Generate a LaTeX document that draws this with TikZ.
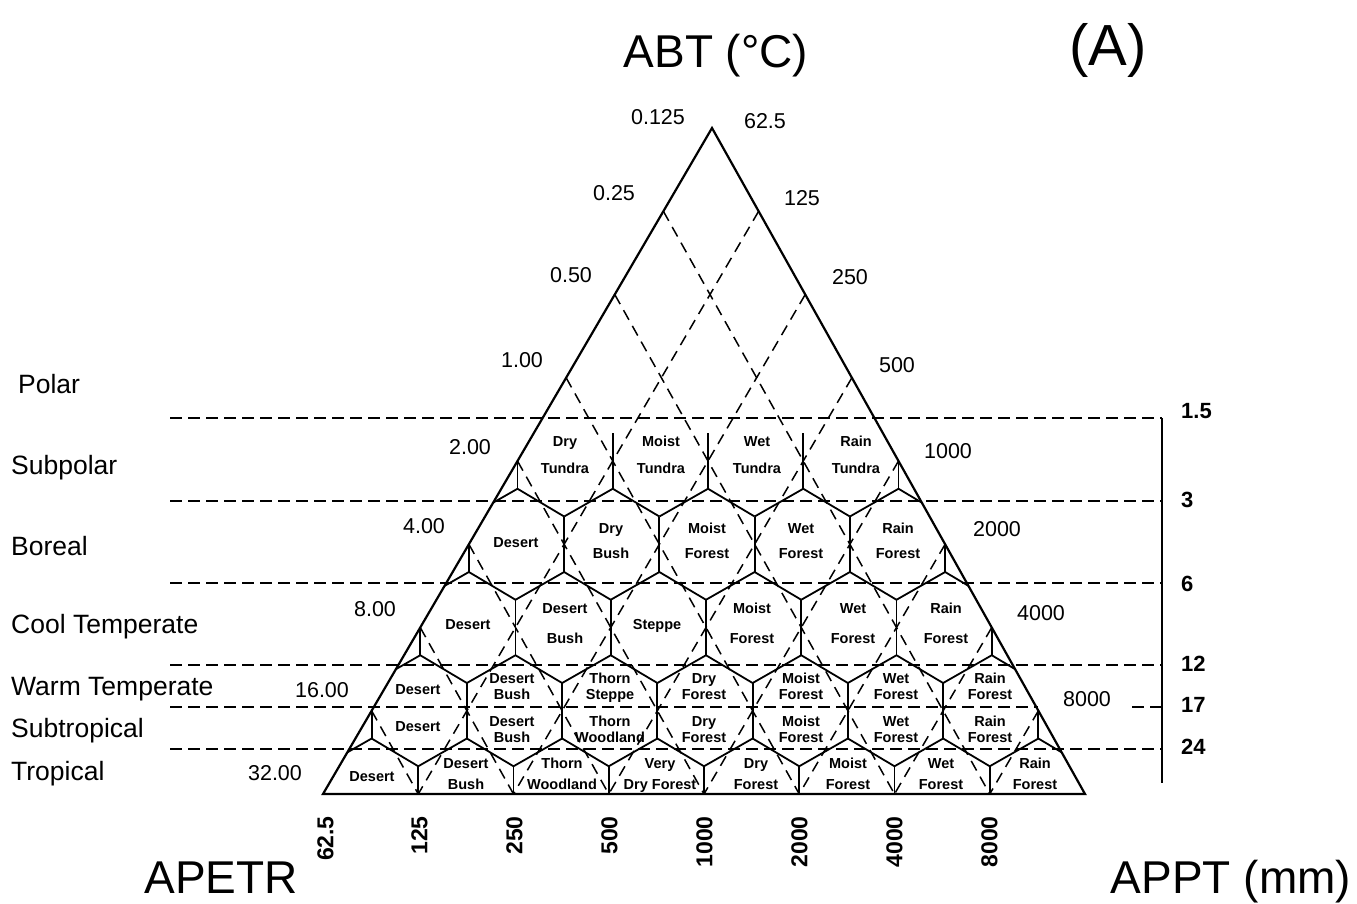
\documentclass[tikz,border=0pt]{standalone}
\usepackage{fontspec}
\setmainfont{Liberation Sans}
\begin{document}
\begin{tikzpicture}[x=1pt,y=-1pt,
  tri/.style={line width=2.2pt, line join=miter},
  hexline/.style={line width=1.8pt},
  gridline/.style={line width=1.5pt, dash pattern=on 11pt off 7pt},
  zoneline/.style={line width=1.5pt, dash pattern=on 12pt off 6pt},
  cell/.style={font=\fontsize{14.5}{16}\selectfont\bfseries, inner sep=0pt, text height=10.4pt, text depth=0pt},
  scalelab/.style={font=\fontsize{21.5}{24}\selectfont, inner sep=0pt, text height=15.4pt, text depth=0pt},
  rightlab/.style={font=\fontsize{22}{24}\selectfont\bfseries, inner sep=0pt, text height=15.8pt, text depth=0pt, anchor=west},
  baselab/.style={font=\fontsize{23}{25}\selectfont\bfseries, inner sep=0pt, text height=16.5pt, text depth=0pt, rotate=90, anchor=east},
  zonelab/.style={font=\fontsize{26.5}{28}\selectfont, inner sep=0pt, text height=19pt, text depth=0pt, anchor=west},
  axislab/.style={font=\fontsize{46}{50}\selectfont, inner sep=0pt, text height=33pt, text depth=0pt},
]
\useasboundingbox (0,0) rectangle (1357,903);
\coordinate (A) at (712,128);
\coordinate (L) at (323,794);
\coordinate (R) at (1085,794);

% hexagon network
\begin{scope}
\clip (A) -- (L) -- (R) -- cycle;
\foreach \k in {4,...,8}{
  \foreach \j in {0,...,\k}{
    \pgfmathsetmacro\xx{712-48.625*\k+95.25*\j}
    \pgfmathsetmacro\yy{128+83.25*\k}
    \draw[hexline] (\xx,{\yy-27.75}) -- (\xx,{\yy+27.75});
  }
}
\foreach \k in {4,...,7}{
  \foreach \j in {0,...,\k}{
    \pgfmathsetmacro\xx{712-48.625*\k+95.25*\j}
    \pgfmathsetmacro\yy{128+83.25*\k}
    \draw[hexline] ({\xx-48.625},{\yy+55.5}) -- (\xx,{\yy+27.75}) -- ({\xx+46.625},{\yy+55.5});
  }
}
\end{scope}

% log grid (dashed)
\foreach \i in {1,...,7}{
  \draw[gridline] ({712-48.625*\i},{128+83.25*\i}) -- ({323+95.25*(8-\i)},794);
  \draw[gridline] ({712+46.625*\i},{128+83.25*\i}) -- ({323+95.25*\i},794);
}

% latitudinal / biotemperature lines
\foreach \y in {418,501,583,665,749}{
  \draw[zoneline] (170,\y) -- (1162,\y);
}
\draw[zoneline] (170,707) -- (1038,707);
\draw[zoneline] (1132,707) -- (1162,707);
\draw[line width=1.8pt] (1162,418) -- (1162,783);

% triangle
\draw[tri] (A) -- (L) -- (R) -- cycle;

% cell labels
\foreach \x/\a/\b/\ta/\tb in {
  565/441/468/Dry/Tundra, 661/441/468/Moist/Tundra, 757/441/468/Wet/Tundra, 856/441/468/Rain/Tundra,
  611/528/553/Dry/Bush, 707/528/553/Moist/Forest, 801/528/553/Wet/Forest, 898/528/553/Rain/Forest,
  565/608/638/Desert/Bush, 752/608/638/Moist/Forest, 853/608/638/Wet/Forest, 946/608/638/Rain/Forest,
  512/678/694/Desert/Bush, 610/678/694/Thorn/Steppe, 704/678/694/Dry/Forest, 801/678/694/Moist/Forest, 896/678/694/Wet/Forest, 990/678/694/Rain/Forest,
  512/721/737/Desert/Bush, 610/721/737/Thorn/Woodland, 704/721/737/Dry/Forest, 801/721/737/Moist/Forest, 896/721/737/Wet/Forest, 990/721/737/Rain/Forest,
  466/763/784/Desert/Bush, 562/763/784/Thorn/Woodland, 660/763/784/Very/Dry Forest, 756/763/784/Dry/Forest, 848/763/784/Moist/Forest, 941/763/784/Wet/Forest, 1035/763/784/Rain/Forest}{
  \node[cell] (c\x-\a) at (\x,\a) {\ta};
  \node[cell] (c\x-\b) at (\x,\b) {\tb};
}
\foreach \x/\y/\t in {516/542/Desert, 468/624/Desert, 657/624/Steppe, 418/689/Desert, 418/726/Desert, 372/776/Desert}{
  \node[cell] (s\x-\y) at (\x,\y) {\t};
}

% scale labels along sides
\foreach \x/\y/\t in {658/117/0.125, 614/193/0.25, 571/275/0.50, 522/360/1.00, 470/447/2.00, 424/526/4.00, 375/609/8.00, 322/690/16.00, 275/773/32.00,
  765/121/62.5, 802/198/125, 850/277/250, 897/365/500, 948/451/1000, 997/529/2000, 1041/613/4000, 1087/699/8000}{
  \node[scalelab] (l\x) at (\x,\y) {\t};
}

% right axis labels
\foreach \y/\t in {411/1.5, 500/3, 584/6, 664/12, 705/17, 747/24}{
  \node[rightlab] (r\y) at (1181,\y) {\t};
}

% base labels
\foreach \x/\t in {325/62.5, 419/125, 514/250, 609/500, 704/1000, 799/2000, 894/4000, 989/8000}{
  \node[baselab] (b\x) at (\x,816) {\t};
}

% zone names
\foreach \x/\y/\t in {18/384/Polar, 11/465/Subpolar, 11/546/Boreal, 11/624/Cool Temperate, 11/686/Warm Temperate, 11/728/Subtropical, 11/771/Tropical}{
  \node[zonelab] (z\y) at (\x,\y) {\t};
}

% axis titles
\node[axislab] (abt) at (716,51) {ABT (°C)};
\node[inner sep=0pt, text height=41.5pt, text depth=0pt, font=\fontsize{58}{60}\selectfont] (panel) at (1108,45) {(A)};
\node[axislab] (apetr) at (221,877) {APETR};
\node[axislab] (appt) at (1231,877) {APPT (mm)};
\end{tikzpicture}
\end{document}
